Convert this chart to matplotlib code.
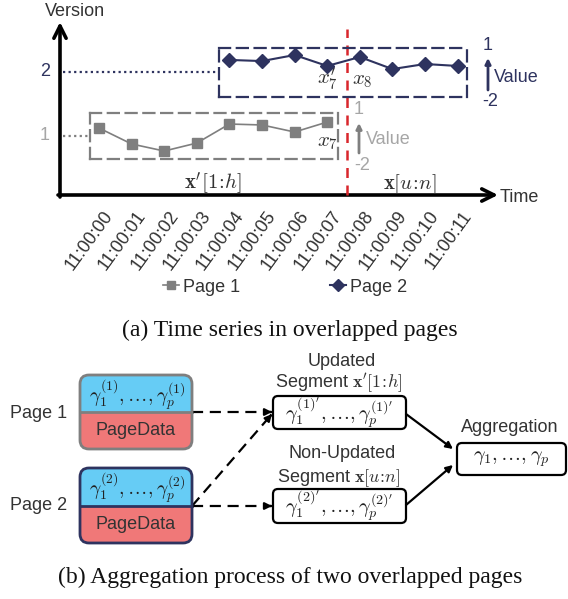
import matplotlib.pyplot as plt
from matplotlib.patches import FancyBboxPatch, Rectangle
from matplotlib.transforms import ScaledTranslation

plt.rcParams["font.family"] = ["Liberation Sans", "DejaVu Sans"]
plt.rcParams["mathtext.fontset"] = "cm"

W, H = 568, 599

# ---- data -------------------------------------------------------------
times = ["11:00:00", "11:00:01", "11:00:02", "11:00:03", "11:00:04", "11:00:05",
         "11:00:06", "11:00:07", "11:00:08", "11:00:09", "11:00:10", "11:00:11"]
page1_idx = [0, 1, 2, 3, 4, 5, 6, 7]
page1_values = [0.02, -1.02, -1.48, -0.96, 0.28, 0.22, -0.24, 0.41]
page2_idx = [4, 5, 6, 7, 8, 9, 10, 11]
page2_values = [0.27, 0.20, 0.57, -0.10, 0.45, -0.29, 0.02, -0.10]
value_range = (-2, 1)
split_at = 7.6

NAVY = "#2E335F"
GRAY = "#7F7F7F"
LIGHT = "#A6A6A6"
TXT = "#333333"
BLUE = "#66CCF5"
RED = "#F07878"

# pixel position of time index 0 and spacing between samples
X0, DX = 99.0, 32.6


def idx(px):
    return (px - X0) / DX


fig = plt.figure(figsize=(W / 100, H / 100), dpi=100)

# overlay in pixel coordinates for arrows, boxes and text
ax = fig.add_axes([0, 0, 1, 1])
ax.set_xlim(0, W)
ax.set_ylim(H, 0)
ax.axis("off")


def px_axes(x0, y0, x1, y1):
    a = fig.add_axes([x0 / W, 1 - y1 / H, (x1 - x0) / W, (y1 - y0) / H])
    a.patch.set_alpha(0)
    return a


def arrow(x0, y0, x1, y1, color="black", lw=1.5, style="-|>", ms=12, ls="-"):
    if ls == "-":
        ax.annotate("", xy=(x1, y1), xytext=(x0, y0),
                    arrowprops=dict(arrowstyle=style, color=color, lw=lw,
                                    mutation_scale=ms, shrinkA=0, shrinkB=0))
    else:
        ax.plot([x0, x1], [y0, y1], color=color, lw=lw, ls=ls, dashes=(5, 3))
        dx, dy = x1 - x0, y1 - y0
        ax.annotate("", xy=(x1, y1), xytext=(x1 - dx * 0.02, y1 - dy * 0.02),
                    arrowprops=dict(arrowstyle=style, color=color, lw=lw,
                                    mutation_scale=ms, shrinkA=0, shrinkB=0))


# ---- (a) time series --------------------------------------------------
ax_t = px_axes(60, 150, 495, 195)
ax_t.set_xlim(idx(60), idx(495))
ax_t.set_ylim(0, 1)
for s in ax_t.spines.values():
    s.set_visible(False)
ax_t.set_yticks([])
ax_t.set_xticks(range(len(times)))
ax_t.set_xticklabels(times, rotation=54, ha="right", va="top",
                     rotation_mode="anchor", fontsize=13, color=TXT)
ax_t.tick_params(axis="x", length=0, pad=9)
for lab in ax_t.get_xticklabels():
    lab.set_transform(lab.get_transform() + ScaledTranslation(4 / 100, 0, fig.dpi_scale_trans))
ax_t.plot([split_at, split_at], [0, 3.7], color="#D9262C", lw=1.8, ls=(0, (4, 3)), clip_on=False)

ax_p1 = px_axes(90, 113, 338, 159)
ax_p1.set_xlim(idx(90), idx(338))
ax_p1.set_ylim(*value_range)
line1, = ax_p1.plot(page1_idx, page1_values, color=GRAY, lw=1.2, marker="s", ms=7,
                    label="Page 1")

ax_p2 = px_axes(219, 48, 467, 97)
ax_p2.set_xlim(idx(219), idx(467))
ax_p2.set_ylim(*value_range)
line2, = ax_p2.plot(page2_idx, page2_values, color=NAVY, lw=1.5, marker="D", ms=7,
                    label="Page 2")

for a, c in ((ax_p1, GRAY), (ax_p2, NAVY)):
    a.set_xticks([])
    a.set_yticks([])
    for s in a.spines.values():
        s.set_color(c)
        s.set_linewidth(1.6)
        s.set_linestyle((0, (5, 3)))

# main axes arrows
arrow(60, 197, 60, 22, lw=2.6, style="->", ms=22)
arrow(58, 195, 498, 195, lw=2.6, style="->", ms=22)
ax.text(75, 12, "Version", fontsize=13, color=TXT, ha="center", va="center")
ax.text(500, 198, "Time", fontsize=13, color=TXT, ha="left", va="center")

# version levels
ax.text(45, 72, "2", fontsize=13, color=NAVY, ha="center", va="center")
ax.text(45, 136, "1", fontsize=13, color=LIGHT, ha="center", va="center")
ax.plot([63, 219], [72, 72], color=NAVY, lw=1.6, ls=(0, (1, 1.5)))
ax.plot([63, 90], [136, 136], color=GRAY, lw=1.6, ls=(0, (1, 1.5)))

# value scales
ax.text(488, 46, "1", fontsize=13, color=NAVY, ha="center", va="center")
ax.text(490, 101, "-2", fontsize=13, color=NAVY, ha="center", va="center")
arrow(488, 90, 488, 58, color=NAVY, lw=2, style="-|>", ms=8)
ax.text(494, 77, "Value", fontsize=13, color=NAVY, ha="left", va="center")
ax.text(359, 110, "1", fontsize=13, color=LIGHT, ha="center", va="center")
ax.text(362, 166, "-2", fontsize=13, color=LIGHT, ha="center", va="center")
arrow(359, 153, 359, 123, color=GRAY, lw=2, style="-|>", ms=8)
ax.text(366, 139, "Value", fontsize=13, color=LIGHT, ha="left", va="center")

# segment labels
ax.text(327, 79, r"$x_7'$", fontsize=15, color=TXT, ha="center", va="center")
ax.text(362, 80, r"$x_8$", fontsize=15, color=TXT, ha="center", va="center")
ax.text(327, 142, r"$x_7$", fontsize=15, color=TXT, ha="center", va="center")
ax.text(213, 184, r"$\mathbf{x}'[1\!:\!h]$", fontsize=15, color=TXT,
        ha="center", va="center")
ax.text(410, 184, r"$\mathbf{x}[u\!:\!n]$", fontsize=15, color=TXT, ha="center", va="center")

fig.legend(handles=[line1, line2], loc="center", bbox_to_anchor=(285 / W, 1 - 287 / H),
           ncol=2, frameon=False, fontsize=13, handlelength=0.9, handletextpad=0.2,
           columnspacing=5.0, labelcolor=TXT, markerscale=0.9)

ax.text(290, 330, "(a) Time series in overlapped pages", family="Liberation Serif",
        fontsize=17, color="#111111", ha="center", va="center")

# ---- (b) aggregation --------------------------------------------------
def page_box(y0, y1, ysplit, edge, sup):
    outline = FancyBboxPatch((80, y0), 112, y1 - y0,
                             boxstyle="round,pad=0,rounding_size=9",
                             fc="none", ec=edge, lw=2, zorder=3)
    ax.add_patch(outline)
    for r0, r1, c in ((y0, ysplit, BLUE), (ysplit, y1, RED)):
        rect = Rectangle((80, r0), 112, r1 - r0, fc=c, ec="none", zorder=1)
        ax.add_patch(rect)
        rect.set_clip_path(outline)
    ax.plot([80, 192], [ysplit, ysplit], color=edge, lw=2, zorder=2)
    ax.text(137, (y0 + ysplit) / 2 + 1,
            r"$\gamma_1^{(%s)},\ldots,\gamma_p^{(%s)}$" % (sup, sup),
            fontsize=14, color="#222222", ha="center", va="center", zorder=4)
    ax.text(136, (ysplit + y1) / 2, "PageData", fontsize=13, color="#333333",
            ha="center", va="center", zorder=4)


page_box(375, 449, 412, GRAY, "1")
page_box(468, 543, 506, NAVY, "2")
ax.text(39, 413, "Page 1", fontsize=13, color=TXT, ha="center", va="center")
ax.text(39, 505, "Page 2", fontsize=13, color=TXT, ha="center", va="center")


def seg_box(x0, y0, x1, y1, label):
    ax.add_patch(FancyBboxPatch((x0, y0), x1 - x0, y1 - y0,
                                boxstyle="round,pad=0,rounding_size=5",
                                fc="white", ec="black", lw=1.6, zorder=3))
    ax.text((x0 + x1) / 2, (y0 + y1) / 2, label, fontsize=14.5, color="#222222",
            ha="center", va="center", zorder=4)


seg_box(273, 396, 406, 429, r"$\gamma_1^{(1)'},\ldots,\gamma_p^{(1)'}$")
seg_box(273, 489, 406, 523, r"$\gamma_1^{(2)'},\ldots,\gamma_p^{(2)'}$")
seg_box(457, 443, 566, 475, r"$\gamma_1,\ldots,\gamma_p$")

ax.text(342, 362, "Updated", fontsize=13, color=TXT, ha="center", va="center")
ax.text(339, 383, r"Segment $\mathbf{x}'[1\!:\!h]$", fontsize=13, color=TXT,
        ha="center", va="center")
ax.text(342, 454, "Non-Updated", fontsize=13, color=TXT, ha="center", va="center")
ax.text(339, 478, r"Segment $\mathbf{x}[u\!:\!n]$", fontsize=13, color=TXT,
        ha="center", va="center")
ax.text(510, 428, "Aggregation", fontsize=13, color=TXT, ha="center", va="center")

arrow(192, 412, 272, 412, lw=1.6, ls="--", ms=10)
arrow(192, 506, 272, 414, lw=1.6, ls="--", ms=10)
arrow(192, 506, 272, 506, lw=1.6, ls="--", ms=10)
arrow(406, 414, 453, 449, lw=1.6, ms=10)
arrow(406, 505, 453, 465, lw=1.6, ms=10)

ax.text(290, 577, "(b) Aggregation process of two overlapped pages",
        family="Liberation Serif", fontsize=17, color="#111111",
        ha="center", va="center")

fig.savefig("out.png", dpi=100)
